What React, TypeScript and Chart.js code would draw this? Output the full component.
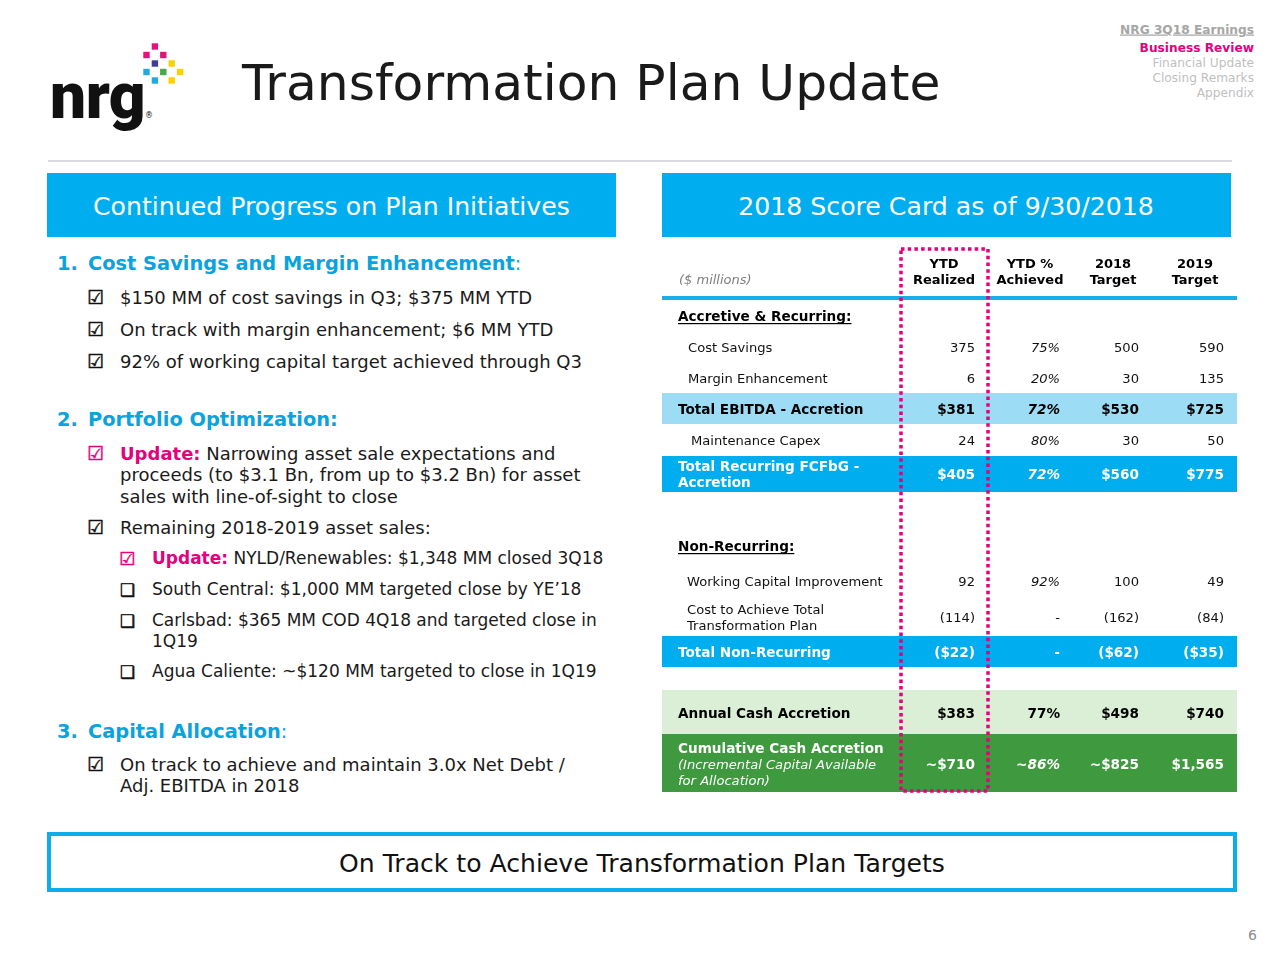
import React, { useEffect, useRef } from 'react';
import { Chart, registerables } from 'chart.js';

Chart.register(...registerables);

const FONT = '"DejaVu Sans", Verdana, sans-serif';
const BLUE = '#00AEEF';
const MAGENTA = '#E5007E';
const HEAD_BLUE = '#0AA3DE';

// ---------- Score card data ----------
const columnHeaders: string[][] = [
  ['YTD', 'Realized'],
  ['YTD %', 'Achieved'],
  ['2018', 'Target'],
  ['2019', 'Target'],
];
const rowLabels: string[][] = [
  ['Accretive & Recurring:'],
  ['Cost Savings'],
  ['Margin Enhancement'],
  ['Total EBITDA - Accretion'],
  ['Maintenance Capex'],
  ['Total Recurring FCFbG -', 'Accretion'],
  ['Non-Recurring:'],
  ['Working Capital Improvement'],
  ['Cost to Achieve Total', 'Transformation Plan'],
  ['Total Non-Recurring'],
  ['Annual Cash Accretion'],
  ['Cumulative Cash Accretion', '(Incremental Capital Available', 'for Allocation)'],
];
const rowKinds = ['section', 'item', 'item', 'total', 'item', 'total', 'section', 'item', 'item', 'total', 'annual', 'cumulative'];
const ytdRealized = [null, 375, 6, 381, 24, 405, null, 92, -114, -22, 383, 710];
const ytdAchievedPct = [null, 75, 20, 72, 80, 72, null, 92, null, null, 77, 86];
const target2018 = [null, 500, 30, 530, 30, 560, null, 100, -162, -62, 498, 825];
const target2019 = [null, 590, 135, 725, 50, 775, null, 49, -84, -35, 740, 1565];
const approxCumulative = [true, true, true, false];

// ---------- layout (chart units) ----------
const rowCenters = [76, 107, 138, 169, 200, 234, 306, 341, 377, 412, 473, 524];
const rowBands: (number[] | null)[] = [null, null, null, [153, 184], null, [216, 252], null, null, null, [396, 427], [450, 494], [494, 552]];
const rowFills = ['', '', '', '#9DDCF5', '', BLUE, '', '', '', BLUE, '#DAEFD5', '#3F9A3F'];
const rowText = ['#000', '#111', '#111', '#000', '#111', '#fff', '#000', '#111', '#111', '#fff', '#000', '#fff'];
const labelIndent = [16, 26, 26, 16, 29, 16, 16, 25, 25, 16, 16, 16];
const colRight = [313, 398, 477, 562];
const colHeadCenter = [282, 368, 451, 533];

function fmtMoney(v: number | null, kind: string, approx: boolean, isPct: boolean) {
  if (v === null) return kind === 'section' ? '' : '-';
  if (isPct) return (approx ? '~' : '') + v + '%';
  const abs = Math.abs(v).toLocaleString('en-US');
  const money = kind === 'total' || kind === 'annual' || kind === 'cumulative';
  let s = (money ? '$' : '') + abs;
  if (v < 0) s = '(' + s + ')';
  return (approx ? '~' : '') + s;
}

const tablePlugin = {
  id: 'scoreCard',
  beforeDatasetsDraw(chart: any) {
    const ctx = chart.ctx;
    const xs = chart.scales.x;
    const ys = chart.scales.y;
    const X = (v: number) => xs.getPixelForValue(v);
    const Y = (v: number) => ys.getPixelForValue(v);
    ctx.save();
    rowBands.forEach((b, i) => {
      if (!b) return;
      ctx.fillStyle = rowFills[i];
      ctx.fillRect(X(0), Y(b[0]), X(575) - X(0), Y(b[1]) - Y(b[0]));
    });
    ctx.fillStyle = '#1AADE8';
    ctx.fillRect(X(0), Y(56), X(575) - X(0), Y(60) - Y(56));
    ctx.restore();
  },
  afterDatasetsDraw(chart: any) {
    const ctx = chart.ctx;
    const xs = chart.scales.x;
    const ys = chart.scales.y;
    const X = (v: number) => xs.getPixelForValue(v);
    const Y = (v: number) => ys.getPixelForValue(v);
    const text = (s: string, x: number, yc: number, font: string, size: number, color: string, align: CanvasTextAlign) => {
      ctx.font = `${font} ${size}px ${FONT}`;
      ctx.fillStyle = color;
      ctx.textAlign = align;
      ctx.textBaseline = 'alphabetic';
      ctx.fillText(s, x, yc + size * 0.36);
    };
    ctx.save();
    columnHeaders.forEach((h, c) => {
      text(h[0], X(colHeadCenter[c]), Y(23), 'bold', 13, '#000', 'center');
      text(h[1], X(colHeadCenter[c]), Y(39), 'bold', 13, '#000', 'center');
    });
    text('($ millions)', X(17), Y(39), 'italic', 13, '#7F7F7F', 'left');

    const cols = [ytdRealized, ytdAchievedPct, target2018, target2019];
    rowLabels.forEach((lines, r) => {
      const kind = rowKinds[r];
      const bold = kind !== 'item';
      const color = rowText[r];
      const n = lines.length;
      lines.forEach((ln, li) => {
        const yc = rowCenters[r] + (li - (n - 1) / 2) * 16;
        const italicSub = kind === 'cumulative' && li > 0;
        const weight = italicSub ? 'italic' : bold ? 'bold' : 'normal';
        const size = bold && !italicSub ? 13.6 : 13.1;
        text(ln, X(labelIndent[r]), Y(yc), weight, size, color, 'left');
        if (kind === 'section') {
          ctx.font = `bold 13.6px ${FONT}`;
          const w = ctx.measureText(ln).width;
          ctx.fillStyle = color;
          ctx.fillRect(X(labelIndent[r]), Y(yc) + 7, w, 1.2);
        }
      });
      if (kind === 'section') return;
      cols.forEach((arr, c) => {
        const approx = kind === 'cumulative' && approxCumulative[c];
        const s = fmtMoney(arr[r], kind, approx, c === 1);
        let weight = bold ? 'bold' : 'normal';
        if (c === 1 && kind !== 'annual' && arr[r] !== null) weight = bold ? 'italic bold' : 'italic';
        text(s, X(colRight[c]), Y(rowCenters[r]), weight, bold ? 13.6 : 13.1, color, 'right');
      });
    });

    ctx.strokeStyle = '#E6007E';
    ctx.lineWidth = 3.5;
    ctx.setLineDash([3.5, 3.2]);
    ctx.strokeRect(X(239), Y(9), X(326) - X(239), Y(551) - Y(9));
    ctx.restore();
  },
};

function ScoreCard() {
  const ref = useRef<HTMLCanvasElement>(null);
  useEffect(() => {
    if (!ref.current) return;
    const chart = new Chart(ref.current, {
      type: 'scatter',
      data: { datasets: [] },
      options: {
        animation: false,
        responsive: false,
        maintainAspectRatio: false,
        events: [],
        layout: { padding: 0 },
        plugins: { legend: { display: false }, tooltip: { enabled: false }, title: { display: false } },
        scales: {
          x: { type: 'linear', min: 0, max: 578, display: false },
          y: { type: 'linear', min: 0, max: 560, reverse: true, display: false },
        },
      },
      plugins: [tablePlugin],
    } as any);
    return () => chart.destroy();
  }, []);
  return (
    <canvas
      ref={ref}
      width={578}
      height={560}
      style={{ position: 'absolute', left: 662, top: 240, width: 578, height: 560 }}
    />
  );
}

const logoPixels: [number, number, string][] = [
  [1, 0, '#E5127D'],
  [0, 1, '#E5127D'], [2, 1, '#E5127D'],
  [1, 2, '#3E3E9A'], [3, 2, '#FDD000'],
  [0, 3, '#22A9E1'], [2, 3, '#48A84A'], [4, 3, '#FDD000'],
  [1, 4, '#22A9E1'], [3, 4, '#FDD000'],
];

const Check = ({ x, y, color = '#111', empty = false, size = 19 }: { x: number; y: number; color?: string; empty?: boolean; size?: number }) => (
  <text x={x} y={y} fontSize={empty ? size - 1 : size} fill={color} stroke={color} strokeWidth={0.5} fontFamily={FONT}>{empty ? '\u2751' : '\u2611'}</text>
);

export default function App() {
  useEffect(() => {
    document.body.style.margin = '0';
  }, []);
  const bodyProps = { fontFamily: FONT, fontSize: 18, fill: '#1A1A1A' };
  const subProps = { fontFamily: FONT, fontSize: 17, fill: '#1A1A1A' };
  const headProps = { fontFamily: FONT, fontSize: 19.4, fill: HEAD_BLUE, fontWeight: 'bold' as const };
  return (
    <div style={{ position: 'absolute', left: 0, top: 0, width: 1280, height: 960, background: '#fff', overflow: 'hidden' }}>
      <svg width={1280} height={960} style={{ position: 'absolute', left: 0, top: 0 }}>
        <text x={50} y={118} fontFamily="Roboto, 'Noto Sans', sans-serif" fontWeight={900} fontSize={64} fill="#111" letterSpacing={-0.5}>nrg</text>
        <text x={145} y={118} fontFamily={FONT} fontSize={8} fill="#111">®</text>
        {logoPixels.map(([c, r, col], i) => (
          <rect key={i} x={143.3 + c * 8.4} y={43.3 + r * 8.5} width={6.4} height={6.4} fill={col} />
        ))}
        <text x={242} y={99.5} fontFamily={FONT} fontSize={50.3} fill="#1A1A1A">Transformation Plan Update</text>
        <g fontFamily={FONT} fontSize={12.2} textAnchor="end">
          <text x={1254} y={33.5} fill="#A6A6A6" fontWeight="bold" textDecoration="underline">NRG 3Q18 Earnings</text>
          <text x={1254} y={51.5} fill={MAGENTA} fontWeight="bold">Business Review</text>
          <text x={1254} y={66.5} fill="#BFBFBF">Financial Update</text>
          <text x={1254} y={81.5} fill="#BFBFBF">Closing Remarks</text>
          <text x={1254} y={96.5} fill="#BFBFBF">Appendix</text>
        </g>
        <line x1={48} y1={161} x2={1232} y2={161} stroke="#D8D8E0" strokeWidth={2} />
        <rect x={47} y={173} width={569} height={64} fill={BLUE} />
        <rect x={662} y={173} width={569} height={64} fill={BLUE} />
        <text x={93} y={215} fontFamily={FONT} fontSize={25.2} fill="#fff">Continued Progress on Plan Initiatives</text>
        <text x={946} y={215} fontFamily={FONT} fontSize={25.2} fill="#fff" textAnchor="middle">2018 Score Card as of 9/30/2018</text>

        <text x={57} y={270} {...headProps}>1.</text>
        <text x={88} y={270} {...headProps}>Cost Savings and Margin Enhancement<tspan fontWeight="normal">:</tspan></text>
        <Check x={87} y={304} />
        <text x={120} y={303.5} {...bodyProps}>$150 MM of cost savings in Q3; $375 MM YTD</text>
        <Check x={87} y={336} />
        <text x={120} y={335.5} {...bodyProps}>On track with margin enhancement; $6 MM YTD</text>
        <Check x={87} y={368} />
        <text x={120} y={367.5} {...bodyProps}>92% of working capital target achieved through Q3</text>

        <text x={57} y={426} {...headProps}>2.</text>
        <text x={88} y={426} {...headProps}>Portfolio Optimization:</text>
        <Check x={87} y={460} color={MAGENTA} />
        <text x={120} y={459.5} {...bodyProps}><tspan fill={MAGENTA} fontWeight="bold">Update:</tspan> Narrowing asset sale expectations and</text>
        <text x={120} y={480.5} {...bodyProps}>proceeds (to $3.1 Bn, from up to $3.2 Bn) for asset</text>
        <text x={120} y={502.5} {...bodyProps}>sales with line-of-sight to close</text>
        <Check x={87} y={534} />
        <text x={120} y={533.5} {...bodyProps}>Remaining 2018-2019 asset sales:</text>
        <Check x={119} y={565} color={MAGENTA} size={18} />
        <text x={152} y={564} {...subProps}><tspan fill={MAGENTA} fontWeight="bold">Update:</tspan> NYLD/Renewables: $1,348 MM closed 3Q18</text>
        <Check x={120} y={596} empty size={18} />
        <text x={152} y={595} {...subProps}>South Central: $1,000 MM targeted close by YE’18</text>
        <Check x={120} y={627} empty size={18} />
        <text x={152} y={626} {...subProps}>Carlsbad: $365 MM COD 4Q18 and targeted close in</text>
        <text x={152} y={647} {...subProps}>1Q19</text>
        <Check x={120} y={678} empty size={18} />
        <text x={152} y={677} {...subProps}>Agua Caliente: ~$120 MM targeted to close in 1Q19</text>

        <text x={57} y={738} {...headProps}>3.</text>
        <text x={88} y={738} {...headProps}>Capital Allocation<tspan fontWeight="normal">:</tspan></text>
        <Check x={87} y={771} />
        <text x={120} y={770.5} {...bodyProps}>On track to achieve and maintain 3.0x Net Debt /</text>
        <text x={120} y={791.5} {...bodyProps}>Adj. EBITDA in 2018</text>

        <rect x={49} y={834} width={1186} height={56} fill="#fff" stroke="#0BAEEA" strokeWidth={4} />
        <text x={642} y={872} fontFamily={FONT} fontSize={25.1} fill="#111" textAnchor="middle">On Track to Achieve Transformation Plan Targets</text>
        <text x={1257} y={940} fontFamily={FONT} fontSize={14} fill="#8C8C8C" textAnchor="end">6</text>
      </svg>
      <ScoreCard />
    </div>
  );
}
